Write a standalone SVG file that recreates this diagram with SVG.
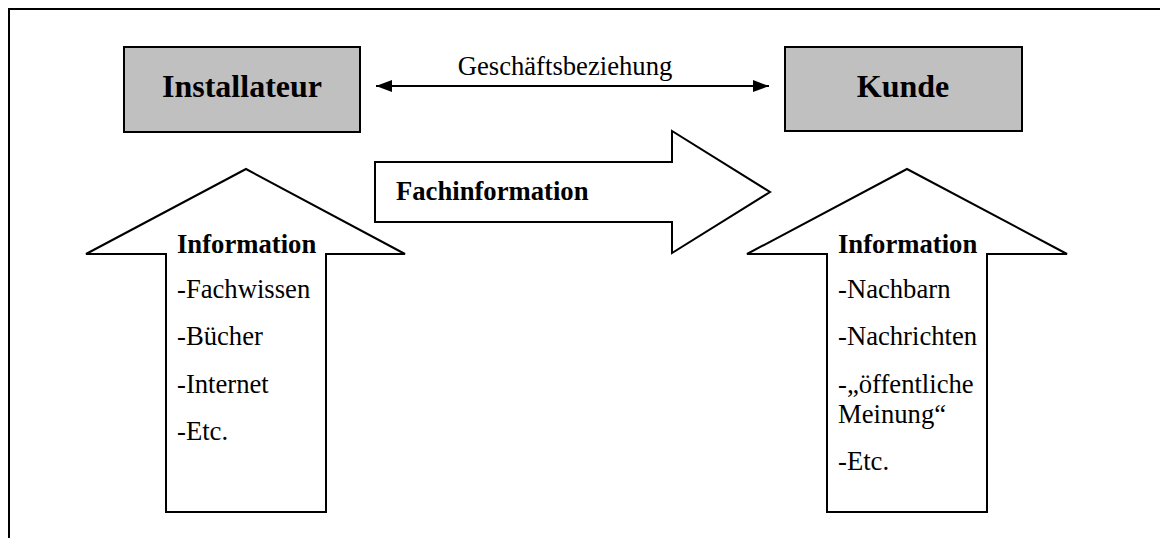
<svg xmlns="http://www.w3.org/2000/svg" width="1160" height="538" viewBox="0 0 1160 538">
<style>
.box{fill:#c0c0c0;stroke:#000;stroke-width:2}
.shape{fill:#fff;stroke:#000;stroke-width:2;stroke-linejoin:miter}
.t{font-family:"Liberation Serif","Times New Roman",serif;fill:#000}
.big{font-size:32px;font-weight:bold}
.b{font-size:26.67px;font-weight:bold}
.r{font-size:26.67px}
</style>
<defs>
<marker id="ah" viewBox="0 0 16 12" refX="16" refY="6" markerWidth="16" markerHeight="12" markerUnits="userSpaceOnUse" orient="auto-start-reverse">
<path d="M0,0 L16,6 L0,12 Z" fill="#000"/>
</marker>
</defs>
<rect width="1160" height="538" fill="#fff"/>
<path d="M9,538 V9 H1160" fill="none" stroke="#000" stroke-width="2"/>
<g id="installateur">
<rect class="box" x="124" y="47" width="236" height="85"/>
<text class="t big" x="242" y="97" text-anchor="middle">Installateur</text>
</g>
<g id="kunde">
<rect class="box" x="785" y="47" width="237" height="84"/>
<text class="t big" x="903" y="97" text-anchor="middle">Kunde</text>
</g>
<g id="connectors">
<line x1="376" y1="86" x2="769" y2="86" stroke="#000" stroke-width="2" marker-start="url(#ah)" marker-end="url(#ah)"/>
<text class="t r" x="565" y="75" text-anchor="middle">Geschäftsbeziehung</text>
</g>
<g id="fachinformation">
<polygon class="shape" points="375,162 672,162 672,131 770,192 672,253 672,222 375,222"/>
<text class="t b" x="396" y="200">Fachinformation</text>
</g>
<g id="info-installateur">
<polygon class="shape" points="246,169 405,254 326,254 326,512 166,512 166,254 86,254"/>
<text class="t b" x="177" y="253">Information</text>
<text class="t r" x="177" y="298">-Fachwissen</text>
<text class="t r" x="177" y="345">-Bücher</text>
<text class="t r" x="177" y="393">-Internet</text>
<text class="t r" x="177" y="440">-Etc.</text>
</g>
<g id="info-kunde">
<polygon class="shape" points="907,169 1067,254 987,254 987,512 827,512 827,254 747,254"/>
<text class="t b" x="838" y="253">Information</text>
<text class="t r" x="838" y="298">-Nachbarn</text>
<text class="t r" x="838" y="345">-Nachrichten</text>
<text class="t r" x="838" y="393">-„öffentliche</text>
<text class="t r" x="838" y="423">Meinung“</text>
<text class="t r" x="838" y="470">-Etc.</text>
</g>
</svg>
